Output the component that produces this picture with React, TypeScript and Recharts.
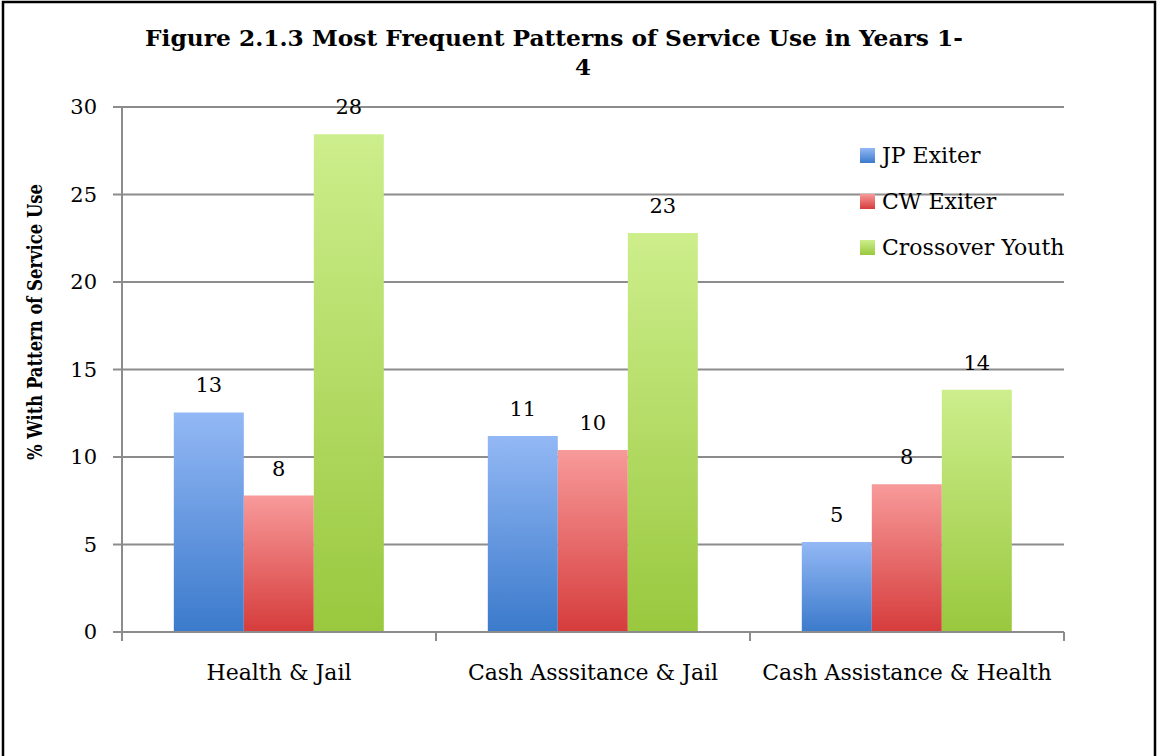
import { Bar, BarChart, CartesianGrid, LabelList, Legend, XAxis, YAxis } from "recharts";

const FONT = "'DejaVu Serif', serif";

const categories = ["Health & Jail", "Cash Asssitance & Jail", "Cash Assistance & Health"];
const jpExiter = [12.55, 11.2, 5.15];
const cwExiter = [7.8, 10.4, 8.45];
const crossoverYouth = [28.45, 22.8, 13.85];
const seriesNames = ["JP Exiter", "CW Exiter", "Crossover Youth"];
const seriesKeys = ["jp", "cw", "cy"];
const yTicks = [0, 5, 10, 15, 20, 25, 30];

// top / bottom colours of each bar gradient
const gradientStops = [
  ["#93b8f5", "#3b7acb"],
  ["#f89a9a", "#d63c3c"],
  ["#cdee8c", "#99c83e"],
];

const data = categories.map((name, i) => ({
  name,
  jp: jpExiter[i],
  cw: cwExiter[i],
  cy: crossoverYouth[i],
}));

function CategoryTick(props: any) {
  const { x, y, payload, index, width, visibleTicksCount } = props;
  const band = width / visibleTicksCount;
  const left = x - band / 2;
  return (
    <g>
      <line x1={left} x2={left} y1={y} y2={y + 9} stroke="#8c8c8c" strokeWidth={2} />
      {index === visibleTicksCount - 1 && (
        <line x1={x + band / 2} x2={x + band / 2} y1={y} y2={y + 9} stroke="#8c8c8c" strokeWidth={2} />
      )}
      <text x={x} y={y + 48} textAnchor="middle" fontFamily={FONT} fontSize={22} fill="#000">
        {payload.value}
      </text>
    </g>
  );
}

function LegendBox() {
  return (
    <div style={{ fontFamily: FONT, fontSize: 22, color: "#000" }}>
      {seriesNames.map((n, i) => (
        <div key={n} style={{ display: "flex", alignItems: "center", height: 46 }}>
          <svg width={15} height={15} style={{ marginRight: 7 }}>
            <rect width={15} height={15} fill={`url(#grad${i})`} />
          </svg>
          <span>{n}</span>
        </div>
      ))}
    </div>
  );
}

export default function App() {
  return (
    <div style={{ position: "absolute", left: 0, top: 0, width: 1157, height: 756, background: "#fff" }}>
      <svg width={0} height={0} style={{ position: "absolute" }}>
        <defs>
          {gradientStops.map(([top, bottom], i) => (
            <linearGradient key={i} id={`grad${i}`} x1="0" y1="0" x2="0" y2="1">
              <stop offset="0%" stopColor={top} />
              <stop offset="100%" stopColor={bottom} />
            </linearGradient>
          ))}
        </defs>
      </svg>
      <BarChart
        width={1157}
        height={756}
        data={data}
        margin={{ top: 107, right: 93, bottom: 94, left: 62 }}
        barCategoryGap="16.5%"
        barGap={0}
      >
        <CartesianGrid vertical={false} stroke="#8c8c8c" strokeWidth={2} />
        <XAxis
          dataKey="name"
          height={30}
          tickSize={0}
          tickMargin={0}
          tickLine={false}
          axisLine={{ stroke: "#8c8c8c", strokeWidth: 2 }}
          tick={<CategoryTick />}
          interval={0}
        />
        <YAxis
          width={60}
          domain={[0, 30]}
          ticks={yTicks}
          tickSize={9}
          tickMargin={16}
          tickLine={{ stroke: "#8c8c8c", strokeWidth: 2 }}
          axisLine={{ stroke: "#8c8c8c", strokeWidth: 2 }}
          tick={{ fontFamily: FONT, fontSize: 21, fill: "#000" }}
        />
        <Legend
          layout="vertical"
          align="center"
          verticalAlign="middle"
          content={<LegendBox />}
          wrapperStyle={{ left: 860, top: 132, width: 260 }}
        />
        {seriesKeys.map((key, i) => (
          <Bar key={key} dataKey={key} name={seriesNames[i]} fill={`url(#grad${i})`} isAnimationActive={false}>
            <LabelList
              dataKey={key}
              position="top"
              offset={20}
              formatter={(v: any) => Math.round(Number(v))}
              style={{ fontFamily: FONT, fontSize: 21, fill: "#000" }}
            />
          </Bar>
        ))}
      </BarChart>
      <svg
        width={1157}
        height={756}
        style={{ position: "absolute", left: 0, top: 0, pointerEvents: "none" }}
      >
        <rect x={3} y={2} width={1152} height={780} fill="none" stroke="#000" strokeWidth={2.5} />
        <text
          x={554}
          y={46}
          textAnchor="middle"
          textLength={818}
          lengthAdjust="spacingAndGlyphs"
          fontFamily={FONT}
          fontWeight="bold"
          fontSize={23}
          fill="#000"
        >
          Figure 2.1.3 Most Frequent Patterns of Service Use in Years 1-
        </text>
        <text x={583} y={75} textAnchor="middle" fontFamily={FONT} fontWeight="bold" fontSize={23} fill="#000">
          4
        </text>
        <text
          x={0}
          y={0}
          transform="translate(42, 322) rotate(-90)"
          textAnchor="middle"
          textLength={276}
          lengthAdjust="spacingAndGlyphs"
          fontFamily={FONT}
          fontWeight="bold"
          fontSize={20}
          fill="#000"
        >
          % With Pattern of Service Use
        </text>
      </svg>
    </div>
  );
}
